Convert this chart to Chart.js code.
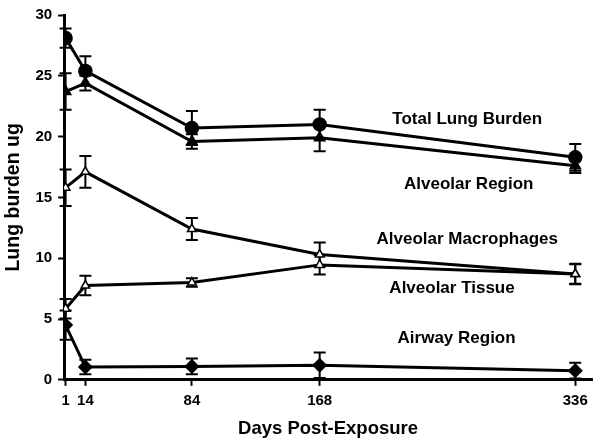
<!DOCTYPE html>
<html>
<head>
<meta charset="utf-8">
<script src="https://cdn.jsdelivr.net/npm/chart.js@4"></script>
<style>
  html, body { margin: 0; padding: 0; background: #fff; }
  #wrap { width: 600px; height: 441px; }
</style>
</head>
<body>
<div id="wrap"><canvas id="lungChart" width="600" height="441"></canvas></div>
<script>
// Days after exposure
const days = [1, 14, 84, 168, 336];

// Series values (ug) and error half-widths
const totalLung = [28.1, 25.4, 20.7, 21.0, 18.3];
const totalLungErr = [0.8, 1.2, 1.4, 1.2, 1.1];
const alveolarRegion = [23.7, 24.4, 19.6, 19.9, 17.6];
const alveolarRegionErr = [1.5, 0.6, 0.6, 1.1, 0.6];
const macrophages = [15.8, 17.1, 12.4, 10.3, 8.7];
const macrophagesErr = [1.5, 1.3, 0.9, 1.0, 0.85];
const tissue = [5.85, 7.75, 8.0, 9.45, 8.7];
const tissueErr = [0.8, 0.8, 0.35, 0.8, 0.8];
const airway = [4.5, 1.05, 1.1, 1.2, 0.75];
const airwayErr = [1.2, 0.6, 0.65, 1.05, 0.65];

// Axis ticks
const xTicks = [1, 14, 84, 168, 336];
const yTicks = [0, 5, 10, 15, 20, 25, 30];

// Series names and where their text labels sit (in data units)
const seriesNames = ['Total Lung Burden', 'Alveolar Region', 'Alveolar Macrophages', 'Alveolar Tissue', 'Airway Region'];
const labelDays = [265, 266, 265, 255, 258];
const labelValues = [21.4, 16.1, 11.55, 7.5, 3.4];

const FONT = 'Arial, "Liberation Sans", sans-serif';

function makeSet(name, values, errs, style, radius, fill) {
    return {
        label: name,
        data: days.map((d, i) => ({ x: d, y: values[i] })),
        errors: errs,
        borderColor: '#000',
        borderWidth: 3,
        pointStyle: style,
        pointRadius: radius,
        pointBackgroundColor: fill,
        pointBorderColor: '#000',
        pointBorderWidth: 1.5,
        tension: 0
    };
}

// Error bars drawn under the markers
const errorBars = {
    id: 'errorBars',
    beforeDatasetsDraw(chart) {
        const ctx = chart.ctx;
        const xs = chart.scales.x, ys = chart.scales.y;
        ctx.save();
        ctx.strokeStyle = '#000';
        ctx.lineWidth = 2;
        chart.data.datasets.forEach(ds => {
            ds.data.forEach((p, i) => {
                const e = ds.errors[i];
                const px = xs.getPixelForValue(p.x);
                const top = ys.getPixelForValue(p.y + e);
                const bot = ys.getPixelForValue(p.y - e);
                ctx.beginPath();
                ctx.moveTo(px, top); ctx.lineTo(px, bot);
                ctx.moveTo(px - 6, top); ctx.lineTo(px + 6, top);
                ctx.moveTo(px - 6, bot); ctx.lineTo(px + 6, bot);
                ctx.stroke();
            });
        });
        ctx.restore();
    }
};

// Series names written in the plot
const seriesLabels = {
    id: 'seriesLabels',
    afterDatasetsDraw(chart) {
        const ctx = chart.ctx;
        const xs = chart.scales.x, ys = chart.scales.y;
        ctx.save();
        ctx.fillStyle = '#000';
        ctx.font = 'bold 17px ' + FONT;
        ctx.textAlign = 'center';
        ctx.textBaseline = 'middle';
        seriesNames.forEach((name, i) => {
            ctx.fillText(name, xs.getPixelForValue(labelDays[i]), ys.getPixelForValue(labelValues[i]));
        });
        ctx.restore();
    }
};

new Chart(document.getElementById('lungChart'), {
    type: 'line',
    data: {
        datasets: [
            makeSet(seriesNames[0], totalLung, totalLungErr, 'circle', 6.5, '#000'),
            makeSet(seriesNames[1], alveolarRegion, alveolarRegionErr, 'triangle', 6, '#000'),
            makeSet(seriesNames[2], macrophages, macrophagesErr, 'triangle', 5, '#fff'),
            makeSet(seriesNames[3], tissue, tissueErr, 'triangle', 5, '#fff'),
            makeSet(seriesNames[4], airway, airwayErr, 'rectRot', 6.5, '#000')
        ]
    },
    options: {
        responsive: false,
        animation: false,
        layout: { padding: { top: 0, right: 0, left: 2, bottom: 0 } },
        plugins: {
            legend: { display: false },
            tooltip: { enabled: false }
        },
        scales: {
            x: {
                type: 'linear',
                min: 0,
                max: 347,
                afterBuildTicks: axis => { axis.ticks = xTicks.map(v => ({ value: v })); },
                grid: { drawOnChartArea: false, drawTicks: true, tickLength: 6, tickWidth: 2, color: '#000' },
                border: { color: '#000', width: 3 },
                ticks: { color: '#000', font: { family: FONT, size: 15, weight: 'bold' }, padding: 6, maxRotation: 0, autoSkip: false },
                title: { display: true, text: 'Days Post-Exposure', color: '#000', font: { family: FONT, size: 18.5, weight: 'bold' }, padding: { top: 2, bottom: 1 } }
            },
            y: {
                min: 0,
                max: 30,
                afterBuildTicks: axis => { axis.ticks = yTicks.map(v => ({ value: v })); },
                grid: { drawOnChartArea: false, drawTicks: true, tickLength: 6, tickWidth: 2, color: '#000' },
                border: { color: '#000', width: 3 },
                ticks: { color: '#000', font: { family: FONT, size: 15, weight: 'bold' }, padding: 6 },
                title: { display: true, text: 'Lung burden ug', color: '#000', font: { family: FONT, size: 19.5, weight: 'bold' }, padding: { top: 0, bottom: 4 } }
            }
        }
    },
    plugins: [errorBars, seriesLabels]
});
</script>
</body>
</html>
